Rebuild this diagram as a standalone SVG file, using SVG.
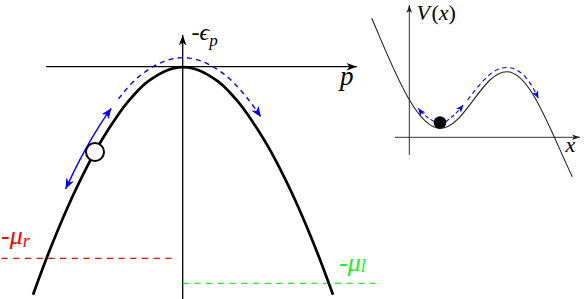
<svg xmlns="http://www.w3.org/2000/svg" width="584" height="299" viewBox="0 0 584 299">
<style>
  .axis { stroke: #000; stroke-width: 1.3; fill: none; }
  .curve { stroke: #000; stroke-width: 2.7; fill: none; stroke-linejoin: round; }
  .blue { stroke: #0000ff; stroke-width: 1.4; fill: none; }
  .dash { stroke-dasharray: 5 4.2; }
  .iaxis { stroke: #333; stroke-width: 1; fill: none; }
  .icurve { stroke: #222; stroke-width: 1.1; fill: none; }
  .iblue { stroke: #0000ff; stroke-width: 1.1; fill: none; }
  text { font-family: "Liberation Serif", "DejaVu Serif", serif; }
  .it { font-style: italic; }
</style>
<defs>
  <marker id="ahK" markerUnits="userSpaceOnUse" markerWidth="14" markerHeight="12" viewBox="-12 -6 14 12" refX="0" refY="0" orient="auto">
    <path d="M0,0 L-10.5,-3.8 L-7.5,0 L-10.5,3.8 Z" fill="#000"/>
  </marker>
  <marker id="ahB" markerUnits="userSpaceOnUse" markerWidth="14" markerHeight="12" viewBox="-12 -6 14 12" refX="0" refY="0" orient="auto-start-reverse">
    <path d="M0,0 L-10.5,-4.3 L-7.5,0 L-10.5,4.3 Z" fill="#0000ff"/>
  </marker>
  <marker id="ahKs" markerUnits="userSpaceOnUse" markerWidth="10" markerHeight="8" viewBox="-9 -4 10 8" refX="0" refY="0" orient="auto">
    <path d="M0,0 L-8,-2.8 L-6,0 L-8,2.8 Z" fill="#222"/>
  </marker>
  <marker id="ahBs" markerUnits="userSpaceOnUse" markerWidth="10" markerHeight="8" viewBox="-9 -4 10 8" refX="0" refY="0" orient="auto">
    <path d="M0,0 L-7.5,-3.2 L-5.5,0 L-7.5,3.2 Z" fill="#0000ff"/>
  </marker>
</defs>

<g id="main-axes">
  <path class="axis" d="M46,66.7 L357,66.7" marker-end="url(#ahK)"/>
  <path class="axis" d="M182.7,299 L182.7,35" marker-end="url(#ahK)"/>
</g>

<g id="levels">
  <path d="M1.5,258.3 L177,258.3" stroke="#ff0000" stroke-width="1.3" stroke-dasharray="6.2 5.5" fill="none"/>
  <path d="M182.7,283.3 L375,283.3" stroke="#22ee22" stroke-width="1.3" stroke-dasharray="6.2 5.5" fill="none"/>
</g>

<g id="dispersion">
  <path class="curve" d="M33,294.7 L38,281.05 Q43,267.4 48,254.55 Q53,241.7 58,229.7 Q63,217.7 68,206.45 Q73,195.2 78,184.85 Q83,174.5 88,164.85 Q93,155.2 98,146.45 Q103,137.7 108,129.95 Q113,122.2 118,114.95 Q123,107.7 128,101.7 Q133,95.7 138,90.45 Q143,85.2 148,81.45 Q153,77.7 158,74.8 Q163,71.9 168,70 Q173,68.1 178,67.4 Q183,66.7 188,67.4 Q193,68.1 198,70 Q203,71.9 208,74.8 Q213,77.7 218,81.45 Q223,85.2 228,90.45 Q233,95.7 238,101.7 Q243,107.7 248,114.95 Q253,122.2 258,129.95 Q263,137.7 268,146.45 Q273,155.2 278,164.85 Q283,174.5 288,184.85 Q293,195.2 298,206.45 Q303,217.7 308,229.7 Q313,241.7 318,254.55 Q323,267.4 328,281.05 L333,294.7"/>
</g>

<g id="connectors">
  <path class="blue dash" d="M118.6,98.8 L122.3,94.05 Q126,89.3 131.3,83.75 Q136.6,78.2 142.05,74.1 Q147.5,70 153.1,66.7 Q158.7,63.4 164.55,61.2 Q170.4,59 176.7,58.1 Q183,57.2 189.3,58.1 Q195.6,59 201.45,61.2 Q207.3,63.4 212.9,66.7 Q218.5,70 223.95,74.1 Q229.4,78.2 234.7,83.75 Q240,89.3 245.25,95.6 Q250.5,101.9 255.7,109.4 L260.9,116.9" marker-end="url(#ahB)"/>
  <path class="blue" d="M65.6,189 L70.05,179.6 Q74.5,170.2 79.6,160.4 Q84.7,150.6 89.8,141.7 Q94.9,132.8 100,124.85 Q105.1,116.9 108.2,112.6 L111.3,108.3" marker-start="url(#ahB)" marker-end="url(#ahB)"/>
  <path class="iblue" stroke-dasharray="4 2.5" d="M434,121.5 Q424,116 418.3,108.3" marker-end="url(#ahBs)"/>
  <path class="iblue" stroke-dasharray="4 2.5" d="M446,121.5 Q455,115 463.3,105" marker-end="url(#ahBs)"/>
  <path class="iblue" stroke-dasharray="4.5 3.5" d="M467.5,100 C483,80 493,67.5 506.7,67.5 C520,67.5 530,80 538.3,98.3" marker-end="url(#ahBs)"/>
</g>

<g id="particle">
  <circle cx="95" cy="152" r="9" fill="#fff" stroke="#000" stroke-width="2"/>
</g>

<g id="labels">
  <text x="191.5" y="40" font-size="24"><tspan>-</tspan><tspan class="it">ϵ</tspan><tspan class="it" font-size="17" dy="6">p</tspan></text>
  <text x="340" y="85" font-size="27" class="it">p</text>
  <text x="1" y="244" font-size="26" fill="#ff0000"><tspan>-</tspan><tspan class="it">μ</tspan><tspan class="it" font-size="18" dy="3">r</tspan></text>
  <text x="339" y="270.5" font-size="26" fill="#22ee22"><tspan>-</tspan><tspan class="it">μ</tspan><tspan class="it" font-size="18" dy="1">l</tspan></text>
</g>

<g id="inset">
  <path class="iaxis" d="M409.3,155 L409.3,5" marker-end="url(#ahKs)"/>
  <path class="iaxis" d="M395,137.3 L580,137.3" marker-end="url(#ahKs)"/>
  <path class="icurve" d="M371.7,18.3 C390,60 415,128.3 440,128.3 C465,128.3 482,71.7 506.7,71.7 C530,71.7 550,130 572.3,176.7"/>
  <circle cx="440" cy="122.5" r="6.3" fill="#000"/>
  <text x="416.5" y="20" font-size="22"><tspan class="it">V</tspan><tspan dx="1.5">(</tspan><tspan class="it">x</tspan><tspan>)</tspan></text>
  <text class="it" x="565.5" y="151.5" font-size="22">x</text>
</g>
</svg>
